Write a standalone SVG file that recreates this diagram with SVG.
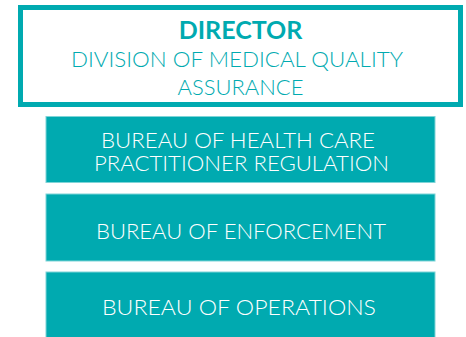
<svg xmlns="http://www.w3.org/2000/svg" width="466" height="337" viewBox="0 0 466 337">
<style>
.bureau{fill:#00AAB0;stroke:#7FD4D7;stroke-width:1}
.bt{font-family:Lato,"Liberation Sans",sans-serif;font-weight:300;font-size:22px;fill:#ffffff;text-anchor:middle}
.dt{font-family:Lato,"Liberation Sans",sans-serif;font-size:22px;fill:#00AAB0;text-anchor:middle;font-weight:300}
</style>
<rect width="466" height="337" fill="#ffffff"/>
<g id="director">
<rect x="20.5" y="7.5" width="440" height="97" fill="#ffffff" stroke="#00AAB0" stroke-width="5"/>
<text x="240.5" y="39" text-anchor="middle" font-family="Lato,'Liberation Sans',sans-serif" font-weight="bold" font-size="25" fill="#00AAB0">DIRECTOR</text>
<text class="dt" x="237" y="66.5" textLength="332" lengthAdjust="spacingAndGlyphs">DIVISION OF MEDICAL QUALITY</text>
<text class="dt" x="240.5" y="94.5">ASSURANCE</text>
</g>
<g id="bureau-hcpr">
<rect class="bureau" x="46" y="116.5" width="389" height="66"/>
<text class="bt" x="238" y="147.5" textLength="274" lengthAdjust="spacingAndGlyphs">BUREAU OF HEALTH CARE</text>
<text class="bt" x="241.5" y="170.5" textLength="295" lengthAdjust="spacingAndGlyphs">PRACTITIONER REGULATION</text>
</g>
<g id="bureau-enforcement">
<rect class="bureau" x="46" y="194" width="389" height="67"/>
<text class="bt" x="241" y="238.5" textLength="290" lengthAdjust="spacingAndGlyphs">BUREAU OF ENFORCEMENT</text>
</g>
<g id="bureau-operations">
<rect class="bureau" x="46" y="272" width="389" height="67"/>
<text class="bt" x="239" y="314.5" textLength="274" lengthAdjust="spacingAndGlyphs">BUREAU OF OPERATIONS</text>
</g>
<g id="connectors"/>
</svg>
